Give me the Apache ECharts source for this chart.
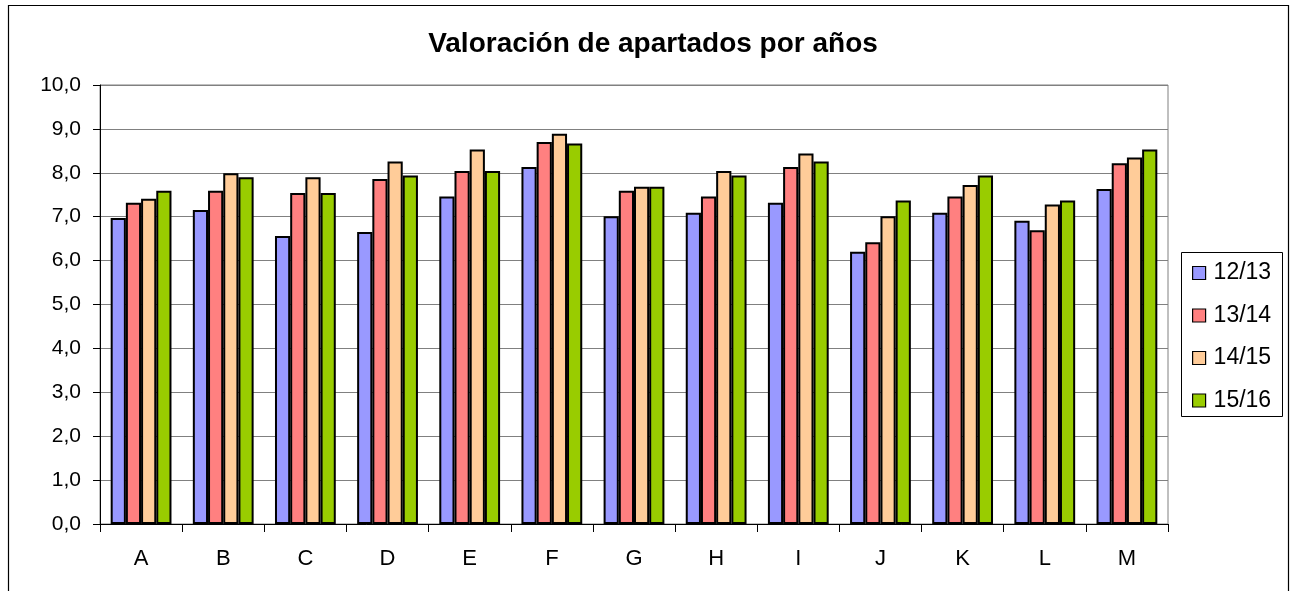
<!DOCTYPE html>
<html>
<head>
<meta charset="utf-8">
<script src="https://cdn.jsdelivr.net/npm/echarts@6/dist/echarts.min.js"></script>
<style>
html,body{margin:0;padding:0;background:#fff;}
#chart{width:1291px;height:591px;}
</style>
</head>
<body>
<div id="chart"></div>
<script>
var categories = ['A','B','C','D','E','F','G','H','I','J','K','L','M'];
var seriesNames = ['12/13','13/14','14/15','15/16'];
var s1213 = [6.97,7.15,6.56,6.65,7.46,8.13,7.01,7.09,7.32,6.20,7.09,6.91,7.63];
var s1314 = [7.32,7.59,7.54,7.86,8.04,8.70,7.59,7.46,8.13,6.42,7.46,6.69,8.22];
var s1415 = [7.41,7.99,7.90,8.26,8.53,8.89,7.68,8.04,8.44,7.01,7.72,7.28,8.35];
var s1516 = [7.59,7.90,7.54,7.94,8.04,8.67,7.68,7.94,8.26,7.37,7.94,7.37,8.53];
var colors = ['#9999FF','#FF8080','#FFCC99','#99CC00'];

var allData = [s1213, s1314, s1415, s1516];
var FONT = '"Liberation Sans", Arial, sans-serif';

var chart = echarts.init(document.getElementById('chart'), null, {renderer:'canvas'});
chart.setOption({
  animation:false,
  backgroundColor:'#fff',
  textStyle:{fontFamily:FONT},
  title:{
    text:'Valoración de apartados por años',
    left:648, top:25, textAlign:'center',
    textStyle:{fontFamily:FONT, fontSize:28, fontWeight:'bold', color:'#000'}
  },
  graphic:[
    {type:'rect', shape:{x:8.5,y:5.5,width:1280,height:600}, style:{fill:'none',stroke:'#000',lineWidth:1.2}, silent:true, z:-1},
    {type:'rect', shape:{x:1181.5,y:252.5,width:101,height:164}, style:{fill:'#fff',stroke:'#000',lineWidth:1}, silent:true, z:0}
  ],
  legend:{
    orient:'vertical',
    left:1187, top:256,
    itemWidth:13, itemHeight:13, itemGap:18.5,
    icon:'rect',
    textStyle:{fontFamily:FONT, fontSize:23, lineHeight:24, color:'#000', padding:[0,0,0,3]},
    data:seriesNames.map(function(n,i){return {name:n, itemStyle:{color:colors[i], borderColor:'#000', borderWidth:1.2}};})
  },
  grid:{left:100, right:123, top:85, bottom:67, show:true, borderColor:'#808080', borderWidth:1},
  xAxis:{
    type:'category', data:categories,
    axisLine:{lineStyle:{color:'#000', width:1}},
    axisTick:{show:true, length:8, alignWithLabel:false, lineStyle:{color:'#000'}},
    axisLabel:{fontFamily:FONT, fontSize:22, color:'#000', margin:24}
  },
  yAxis:{
    type:'value', min:0, max:10, interval:1,
    axisLine:{show:true, lineStyle:{color:'#000', width:1}},
    axisTick:{show:true, length:7, lineStyle:{color:'#000'}},
    axisLabel:{fontFamily:FONT, fontSize:21, color:'#000', margin:19, formatter:function(v){return v.toFixed(1).replace('.',',');}},
    splitLine:{show:true, lineStyle:{color:'#808080', width:1}}
  },
  series:seriesNames.map(function(n,i){
    return {
      name:n, type:'bar', data:allData[i],
      barGap:'0%', barCategoryGap:'26%',
      itemStyle:{color:colors[i], borderColor:'#000', borderWidth:2}
    };
  })
});
</script>
</body>
</html>
